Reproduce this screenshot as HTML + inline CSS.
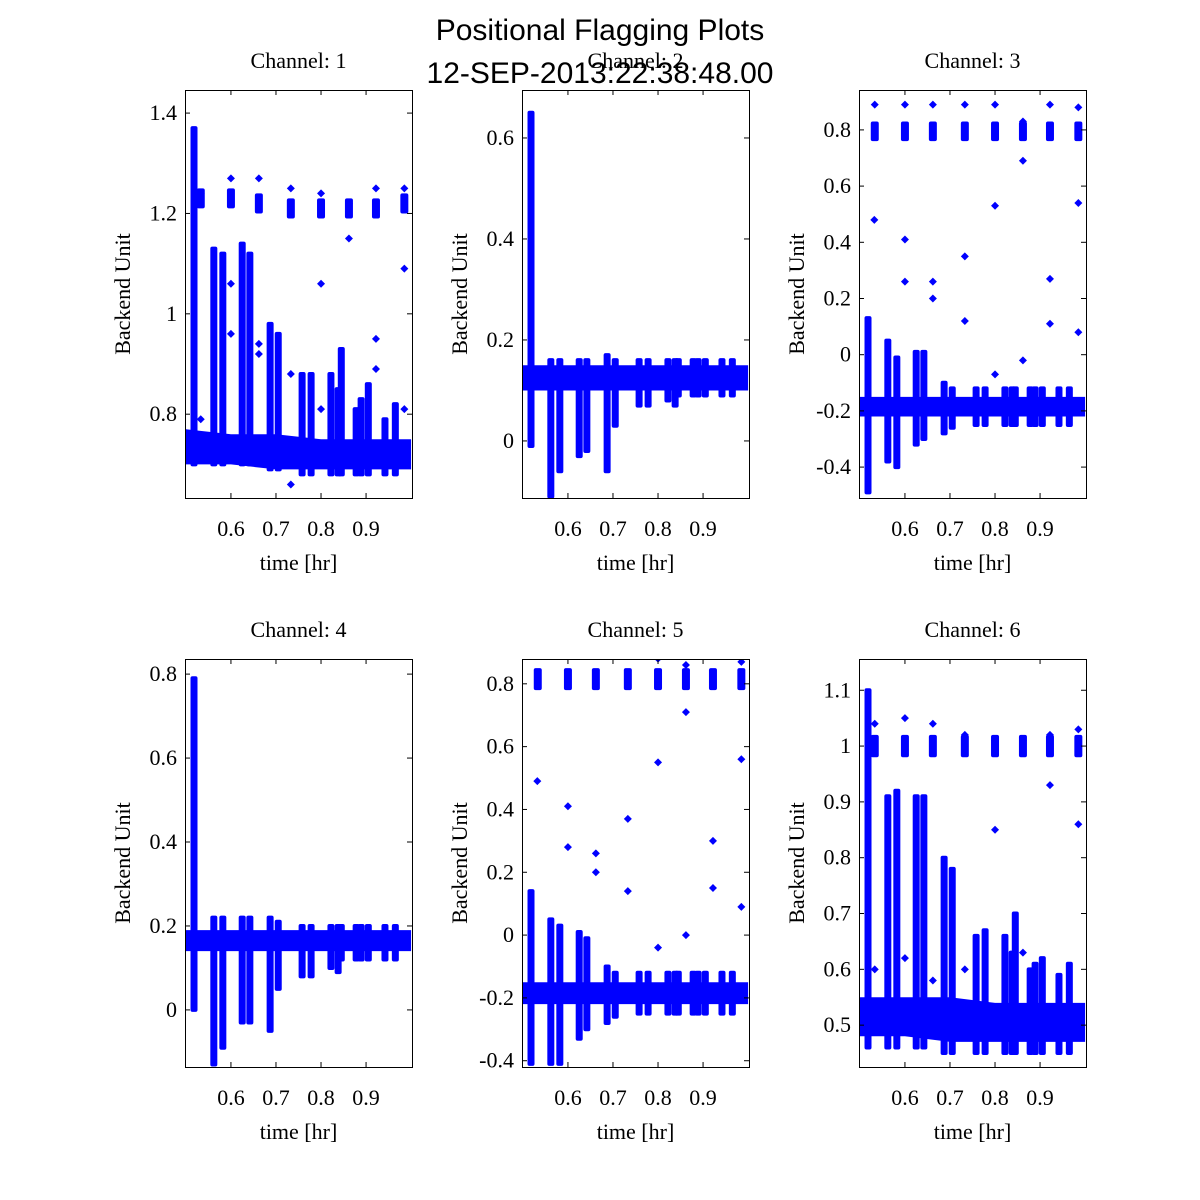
<!DOCTYPE html>
<html><head><meta charset="utf-8"><style>
body{margin:0;background:#fff;}
svg{display:block;}
.t{font-family:"Liberation Serif",serif;font-size:22px;fill:#000;}
.h{font-family:"Liberation Sans",sans-serif;font-size:30px;fill:#000;}
</style></head><body>
<svg id="chart" width="1200" height="1200" viewBox="0 0 1200 1200">
<rect width="1200" height="1200" fill="#fff"/>
<text class="h" x="600" y="40" text-anchor="middle">Positional Flagging Plots</text>
</svg>
<script>
// ---- data ----
const xTicks=[0.6,0.7,0.8,0.9];
const xTickLabels=["0.6","0.7","0.8","0.9"];
const channels=["1","2","3","4","5","6"];
const yRanges=[[0.633,1.446],[-0.113,0.695],[-0.51,0.942],[-0.136,0.836],[-0.42,0.879],[0.425,1.156]];
const yTicks=[[0.8,1,1.2,1.4],[0,0.2,0.4,0.6],[-0.4,-0.2,0,0.2,0.4,0.6,0.8],[0,0.2,0.4,0.6,0.8],[-0.4,-0.2,0,0.2,0.4,0.6,0.8],[0.5,0.6,0.7,0.8,0.9,1,1.1]];
const yTickLabels=[["0.8","1","1.2","1.4"],["0","0.2","0.4","0.6"],["-0.4","-0.2","0","0.2","0.4","0.6","0.8"],["0","0.2","0.4","0.6","0.8"],["-0.4","-0.2","0","0.2","0.4","0.6","0.8"],["0.5","0.6","0.7","0.8","0.9","1","1.1"]];
const baseTimes=[0.5,0.6,0.7,0.8,0.9,1.0];
const baseLo=[[0.70,0.70,0.69,0.69,0.69,0.69],[0.10,0.10,0.10,0.10,0.10,0.10],[-0.22,-0.22,-0.22,-0.22,-0.22,-0.22],[0.14,0.14,0.14,0.14,0.14,0.14],[-0.22,-0.22,-0.22,-0.22,-0.22,-0.22],[0.48,0.48,0.47,0.47,0.47,0.47]];
const baseHi=[[0.77,0.76,0.76,0.75,0.75,0.75],[0.15,0.15,0.15,0.15,0.15,0.15],[-0.15,-0.15,-0.15,-0.15,-0.15,-0.15],[0.19,0.19,0.19,0.19,0.19,0.19],[-0.15,-0.15,-0.15,-0.15,-0.15,-0.15],[0.55,0.55,0.55,0.54,0.54,0.54]];
const spikeTimes=[0.518,0.562,0.582,0.625,0.642,0.687,0.705,0.758,0.778,0.822,0.838,0.845,0.878,0.889,0.905,0.942,0.965];
const spikeTop=[
 [1.37,1.13,1.12,1.14,1.12,0.98,0.96,0.88,0.88,0.88,0.85,0.93,0.81,0.83,0.86,0.79,0.82],
 [0.65,0.16,0.16,0.16,0.16,0.17,0.16,0.16,0.16,0.16,0.16,0.16,0.16,0.16,0.16,0.16,0.16],
 [0.13,0.05,-0.01,0.01,0.01,-0.1,-0.12,-0.12,-0.12,-0.12,-0.12,-0.12,-0.12,-0.12,-0.12,-0.12,-0.12],
 [0.79,0.22,0.22,0.22,0.22,0.22,0.21,0.2,0.2,0.2,0.2,0.2,0.2,0.2,0.2,0.2,0.2],
 [0.14,0.05,0.03,0.01,-0.01,-0.1,-0.12,-0.12,-0.12,-0.12,-0.12,-0.12,-0.12,-0.12,-0.12,-0.12,-0.12],
 [1.1,0.91,0.92,0.91,0.91,0.80,0.78,0.66,0.67,0.66,0.63,0.70,0.60,0.61,0.62,0.59,0.61]];
const spikeBottom=[
 [0.70,0.70,0.70,0.70,0.70,0.69,0.69,0.68,0.68,0.68,0.68,0.68,0.68,0.68,0.68,0.68,0.68],
 [-0.01,-0.11,-0.06,-0.03,-0.02,-0.06,0.03,0.07,0.07,0.08,0.07,0.09,0.09,0.09,0.09,0.09,0.09],
 [-0.49,-0.38,-0.40,-0.32,-0.30,-0.28,-0.26,-0.25,-0.25,-0.25,-0.25,-0.25,-0.25,-0.25,-0.25,-0.25,-0.25],
 [0.0,-0.13,-0.09,-0.03,-0.03,-0.05,0.05,0.08,0.08,0.1,0.09,0.12,0.12,0.12,0.12,0.12,0.12],
 [-0.41,-0.41,-0.41,-0.33,-0.30,-0.28,-0.26,-0.25,-0.25,-0.25,-0.25,-0.25,-0.25,-0.25,-0.25,-0.25,-0.25],
 [0.46,0.46,0.46,0.46,0.46,0.45,0.45,0.45,0.45,0.45,0.45,0.45,0.45,0.45,0.45,0.45,0.45]];
const clusterTimes=[0.533,0.600,0.662,0.733,0.800,0.862,0.922,0.985];
const clusterLo=[[1.21,1.21,1.20,1.19,1.19,1.19,1.19,1.20],null,[0.76,0.76,0.76,0.76,0.76,0.76,0.76,0.76],null,[0.78,0.78,0.78,0.78,0.78,0.78,0.78,0.78],[0.98,0.98,0.98,0.98,0.98,0.98,0.98,0.98]];
const clusterHi=[[1.25,1.25,1.24,1.23,1.23,1.23,1.23,1.24],null,[0.83,0.83,0.83,0.83,0.83,0.83,0.83,0.83],null,[0.85,0.85,0.85,0.85,0.85,0.85,0.85,0.85],[1.02,1.02,1.02,1.02,1.02,1.02,1.02,1.02]];
const clusterPeak=[[1.24,1.27,1.27,1.25,1.24,1.22,1.25,1.25],null,[0.89,0.89,0.89,0.89,0.89,0.83,0.89,0.88],null,[0.9,0.9,0.9,0.89,0.88,0.86,0.9,0.87],[1.04,1.05,1.04,1.02,1.01,1.01,1.02,1.03]];
const outT=[[0.533,0.6,0.6,0.662,0.662,0.733,0.733,0.8,0.8,0.862,0.922,0.922,0.985,0.985],[],
 [0.532,0.6,0.6,0.662,0.662,0.733,0.733,0.8,0.8,0.862,0.862,0.922,0.922,0.985,0.985],[],
 [0.532,0.6,0.6,0.662,0.662,0.733,0.733,0.8,0.8,0.862,0.862,0.922,0.922,0.985,0.985],
 [0.533,0.6,0.662,0.733,0.8,0.862,0.922,0.985]];
const outV=[[0.79,1.06,0.96,0.92,0.94,0.88,0.66,1.06,0.81,1.15,0.95,0.89,1.09,0.81],[],
 [0.48,0.41,0.26,0.26,0.2,0.35,0.12,0.53,-0.07,0.69,-0.02,0.27,0.11,0.54,0.08],[],
 [0.49,0.41,0.28,0.26,0.2,0.37,0.14,0.55,-0.04,0.71,0.0,0.30,0.15,0.56,0.09],
 [0.6,0.62,0.58,0.6,0.85,0.63,0.93,0.86]];
// ---- layout ----
const svg=document.getElementById('chart');
const NS='http://www.w3.org/2000/svg';
const colL=[185,522,859],rowT=[90,659],PW=227,PH=408,X0=0.498,X1=1.002;
function mk(tag,attrs,parent){const e=document.createElementNS(NS,tag);for(const k in attrs)e.setAttribute(k,attrs[k]);(parent||svg).appendChild(e);return e;}
const sub=mk('text',{class:'h',x:600,y:83,'text-anchor':'middle'});
sub.textContent='12-SEP-2013:22:38:48.00';


const SW=7,CW=8;
channels.forEach((ch,i)=>{
 const L=colL[i%3],T=rowT[Math.floor(i/3)];
 const [y0,y1]=yRanges[i];
 const sx=t=>L+(t-X0)/(X1-X0)*PW;
 const sy=v=>T+PH-(v-y0)/(y1-y0)*PH;
 const g=mk('g',{});
 
 
 const cp='cp'+i;
 const cpe=mk('clipPath',{id:cp},g);mk('rect',{x:L,y:T,width:PW,height:PH},cpe);
 const d=mk('g',{'clip-path':'url(#'+cp+')'},g);
 
 
 let pts=baseTimes.map((t,k)=>sx(t)+','+sy(baseHi[i][k]));
 pts=pts.concat(baseTimes.slice().reverse().map((t,k)=>sx(t)+','+sy(baseLo[i][baseTimes.length-1-k])));
 const band=mk('polygon',{points:pts.join(' '),fill:'#0000ff'},d);
 
 
 spikeTimes.forEach((t,k)=>{
  const r=mk('rect',{x:sx(t)-SW/2,y:sy(spikeTop[i][k])-2,width:SW,height:Math.max(1,sy(spikeBottom[i][k])-sy(spikeTop[i][k])+4),rx:2,fill:'#0000ff'},d);
  
  
 });
 if(clusterLo[i]) clusterTimes.forEach((t,k)=>{
  const r=mk('rect',{x:sx(t)-CW/2,y:sy(clusterHi[i][k]),width:CW,height:sy(clusterLo[i][k])-sy(clusterHi[i][k]),rx:2,fill:'#0000ff'},d);
  
  
  const p=mk('path',{d:`M${sx(t)} ${sy(clusterPeak[i][k])-4}l4 4l-4 4l-4 -4z`,fill:'#0000ff'},d);
  
  
 });
 outT[i].forEach((t,k)=>{
  const p=mk('path',{d:`M${sx(t)} ${sy(outV[i][k])-4}l4 4l-4 4l-4 -4z`,fill:'#0000ff'},d);
  
  
 });
 const fr=mk('rect',{x:L+0.5,y:T+0.5,width:PW,height:PH,fill:'none',stroke:'#000','stroke-width':1},g);
 
 
 xTicks.forEach((t,k)=>{
  const x=sx(t);
  mk('line',{x1:x,x2:x,y1:T+PH,y2:T+PH-5,stroke:'#000'},g);
  mk('line',{x1:x,x2:x,y1:T,y2:T+5,stroke:'#000'},g);
  const tx=mk('text',{class:'t',x:x,y:T+PH+38,'text-anchor':'middle'},g);
  tx.textContent=xTickLabels[k];
  
  
 });
 yTicks[i].forEach((v,k)=>{
  const y=sy(v);
  mk('line',{x1:L,x2:L+5,y1:y,y2:y,stroke:'#000'},g);
  mk('line',{x1:L+PW,x2:L+PW-5,y1:y,y2:y,stroke:'#000'},g);
  const tx=mk('text',{class:'t',x:L-8,y:y+7,'text-anchor':'end'},g);
  tx.textContent=yTickLabels[i][k];
  
  
 });
 const ti=mk('text',{class:'t',x:L+PW/2,y:T-22,'text-anchor':'middle'},g);
 ti.textContent='Channel: '+ch;
 
 
 const xl=mk('text',{class:'t',x:L+PW/2,y:T+PH+72,'text-anchor':'middle'},g);
 xl.textContent='time [hr]';
 
 
 const yl=mk('text',{class:'t',x:0,y:0,'text-anchor':'middle',transform:`translate(${L-55},${T+PH/2}) rotate(-90)`},g);
 yl.textContent='Backend Unit';
 
 
});
</script>
</body></html>
